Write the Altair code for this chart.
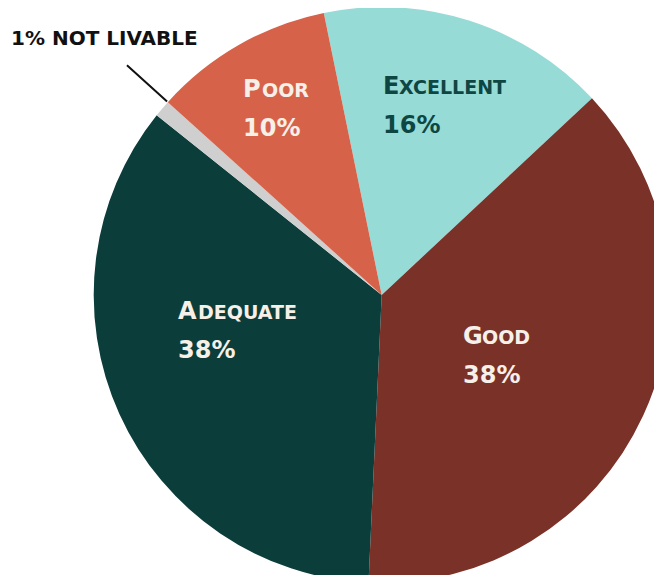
import math
import altair as alt
import pandas as pd

# ---- data ----
categories = ["Excellent", "Good", "Adequate", "Not livable", "Poor"]
values = [16.25, 37.7, 35.0, 0.95, 10.1]          # share of the pie (angles measured)
pct_labels = ["16%", "38%", "38%", "1%", "10%"]     # printed percentages
colors = ["#97DBD7", "#7A3128", "#0B3D3A", "#CFCFCF", "#D6624A"]
text_colors = ["#0E4643", "#F6F0E8", "#F6F0E8", "#111111", "#F6F0E8"]

df = pd.DataFrame({
    "category": categories,
    "value": values,
    "order": list(range(len(categories))),
    "pct": pct_labels,
})

# ---- layout ----
FONT = "DejaVu Sans"
total = sum(values)
start = math.radians(-11.6)
theta_scale = alt.Scale(domain=[0, total], range=[start, start + 2 * math.pi])
CX, CY, R = 373.7, 287, 288

base = alt.Chart(df).transform_stack(
    stack="value", as_=["v0", "v1"], groupby=[],
    sort=[alt.SortField("order", order="ascending")],
).transform_calculate(
    mid="(datum.v0 + datum.v1) / 2",
    initial="upper(substring(datum.category, 0, 1))",
    rest="upper(substring(datum.category, 1))",
    note="datum.pct + ' ' + upper(datum.category)",
)
center = dict(x=alt.value(CX), y=alt.value(CY))

pie = base.mark_arc(outerRadius=R).encode(
    theta=alt.Theta("v0:Q", scale=theta_scale),
    theta2="v1:Q",
    color=alt.Color("category:N", scale=alt.Scale(domain=categories, range=colors), legend=None),
    **center,
)

# label placement: (radius, dx, dy, offset of small caps after the initial)
label_layout = {
    "Excellent": (201, -59.6, -9.5, 16),
    "Poor": (217, -30.9, -9.7, 19),
    "Adequate": (145, -71.6, -35.9, 20),
    "Good": (131, -37.6, -5.9, 19),
}

layers = [pie]
for cat, (r, dx, dy, off) in label_layout.items():
    tc = text_colors[categories.index(cat)]
    sub = base.transform_filter(alt.datum.category == cat)
    enc = dict(theta=alt.Theta("mid:Q", scale=theta_scale), radius=alt.value(r), **center)
    common = dict(font=FONT, fontWeight="bold", align="left", baseline="alphabetic", color=tc)
    layers.append(sub.mark_text(fontSize=24, dx=dx, dy=dy, **common).encode(text="initial:N", **enc))
    layers.append(sub.mark_text(fontSize=19, dx=dx + off, dy=dy, **common).encode(text="rest:N", **enc))
    layers.append(sub.mark_text(fontSize=24, dx=dx, dy=dy + 39, **common).encode(text="pct:N", **enc))

# annotation for the tiny slice
nl = base.transform_filter(alt.datum.category == "Not livable")
leader = nl.mark_arc(stroke="#111111", strokeWidth=2, fillOpacity=0).encode(
    theta=alt.Theta("v1:Q", scale=theta_scale),
    theta2="v1:Q",
    radius=alt.value(343),
    radius2=alt.value(R + 1),
    **center,
)
note = nl.mark_text(font=FONT, fontWeight="bold", fontSize=20, align="left",
                    baseline="alphabetic", color="#111111", dx=-84.8, dy=-7.4).encode(
    theta=alt.Theta("mid:Q", scale=theta_scale),
    radius=alt.value(375),
    text="note:N",
    **center,
)
layers += [leader, note]

chart = alt.layer(*layers).properties(
    width=646, height=567, padding=0, autosize="none",
).configure_view(strokeWidth=0)

chart.save("out.html", embed_options={"renderer": "svg", "actions": False})
